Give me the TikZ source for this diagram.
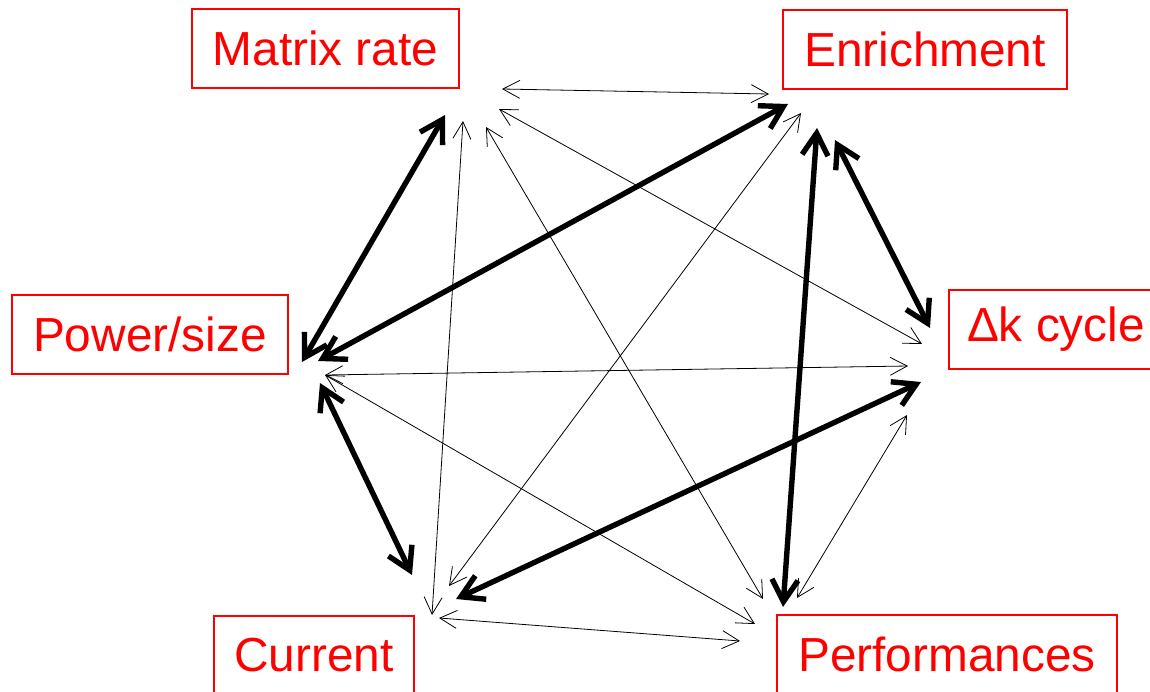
\documentclass[tikz,border=0pt]{standalone}
\usepackage{fontspec}
\setmainfont{Liberation Sans}
\definecolor{factorred}{RGB}{255,0,0}
\usetikzlibrary{arrows.meta}

\begin{document}
\begin{tikzpicture}[x=0.5pt,y=-0.5pt,
  factor/.style={draw=factorred,text=factorred,line width=1pt,inner xsep=9pt,inner ysep=0pt,
    minimum height=39.5pt,font=\fontsize{23.9}{29}\selectfont},
  weaklink/.style={{Straight Barb[length=8.5pt,width=9pt]}-{Straight Barb[length=8.5pt,width=9pt]},line width=0.4pt},
  stronglink/.style={{Straight Barb[length=11pt,width=13pt]}-{Straight Barb[length=11pt,width=13pt]},
    line width=2.7pt,line cap=round,line join=round}]
  \useasboundingbox (0,0) rectangle (1150,691);
  \clip (0,0) rectangle (1150,691);
  % factors
  \node[factor,minimum width=133.5pt] (mrate) at (325.5,48.5) {Matrix rate};
  \node[factor,minimum width=142pt] (enrich) at (925,49.5) {Enrichment};
  \node[factor,minimum width=138pt] (power) at (150,334.5) {Power/size};
  \node[factor] (dk) at (1056,329.5) {Δk cycle};
  \node[factor,minimum width=100pt] (current) at (314,655.5) {Current};
  \node[factor,minimum width=170pt] (perf) at (947,654.5) {Performances};
  % arrow ends
  \coordinate (mrate-enrich) at (502,89);   \coordinate (enrich-mrate) at (769,94);
  \coordinate (mrate-dk) at (499,109);      \coordinate (dk-mrate) at (922,344);
  \coordinate (mrate-perf) at (486,127);    \coordinate (perf-mrate) at (763,599);
  \coordinate (mrate-current) at (463,121); \coordinate (current-mrate) at (432,615);
  \coordinate (enrich-current) at (801,113);\coordinate (current-enrich) at (449,586);
  \coordinate (power-dk) at (325,375);      \coordinate (dk-power) at (908,366);
  \coordinate (power-perf) at (325,375);    \coordinate (perf-power) at (755,624);
  \coordinate (dk-perf) at (907,415);       \coordinate (perf-dk) at (797,598);
  \coordinate (current-perf) at (439,618);  \coordinate (perf-current) at (740,641);
  \coordinate (mrate-power) at (445,115);   \coordinate (power-mrate) at (302,362);
  \coordinate (enrich-power) at (788,104);  \coordinate (power-enrich) at (318,361);
  \coordinate (enrich-dk) at (835,140);     \coordinate (dk-enrich) at (930,328);
  \coordinate (enrich-perf) at (817,128);   \coordinate (perf-enrich) at (783,607);
  \coordinate (power-current) at (320,383); \coordinate (current-power) at (412,575);
  \coordinate (dk-current) at (921,382);    \coordinate (current-dk) at (456,599);
  % weak links
  \foreach \a/\b in {mrate/enrich, mrate/dk, mrate/perf, mrate/current, enrich/current,
                     power/dk, power/perf, dk/perf, current/perf}{
    \draw[weaklink] (\a-\b) -- (\b-\a);
  }
  % strong links
  \foreach \a/\b in {mrate/power, enrich/power, enrich/dk, enrich/perf, power/current, dk/current}{
    \draw[stronglink] (\a-\b) -- (\b-\a);
  }
\end{tikzpicture}
\end{document}
